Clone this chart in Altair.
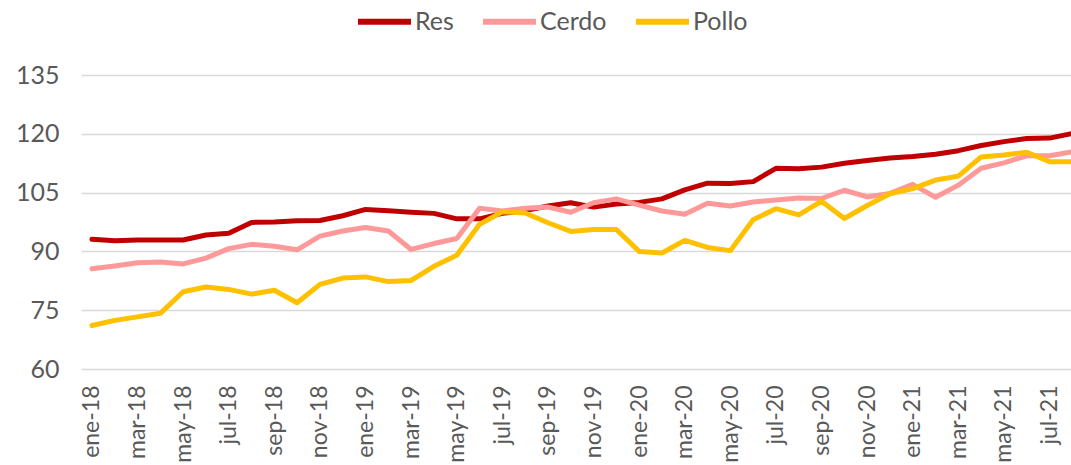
import altair as alt
import pandas as pd

# Monthly index values, ene-18 .. ago-21
months = [
    "ene-18", "feb-18", "mar-18", "abr-18", "may-18", "jun-18", "jul-18", "ago-18",
    "sep-18", "oct-18", "nov-18", "dic-18",
    "ene-19", "feb-19", "mar-19", "abr-19", "may-19", "jun-19", "jul-19", "ago-19",
    "sep-19", "oct-19", "nov-19", "dic-19",
    "ene-20", "feb-20", "mar-20", "abr-20", "may-20", "jun-20", "jul-20", "ago-20",
    "sep-20", "oct-20", "nov-20", "dic-20",
    "ene-21", "feb-21", "mar-21", "abr-21", "may-21", "jun-21", "jul-21", "ago-21",
]

res = [
    93.1, 92.7, 92.9, 92.9, 92.9, 94.2, 94.6, 97.4, 97.5, 97.8, 97.9,
    99.1, 100.7, 100.4, 100.0, 99.7, 98.3, 98.3, 99.7, 100.4, 101.6, 102.4,
    101.3, 102.1, 102.5, 103.4, 105.7, 107.4, 107.3, 107.8, 111.2, 111.1, 111.5,
    112.5, 113.2, 113.8, 114.2, 114.8, 115.7, 117.0, 118.0, 118.8, 118.9, 120.1,
]

cerdo = [
    85.6, 86.3, 87.1, 87.3, 86.8, 88.3, 90.7, 91.8, 91.3, 90.4, 93.9,
    95.2, 96.1, 95.2, 90.5, 92.0, 93.3, 101.0, 100.3, 101.0, 101.3, 100.0,
    102.4, 103.4, 101.8, 100.3, 99.5, 102.3, 101.6, 102.6, 103.1, 103.6, 103.5,
    105.6, 103.9, 104.8, 107.1, 103.8, 106.9, 111.2, 112.6, 114.4, 114.4, 115.4,
]

pollo = [
    71.1, 72.4, 73.3, 74.2, 79.7, 80.9, 80.3, 79.1, 80.1, 76.9, 81.6,
    83.2, 83.5, 82.3, 82.6, 86.2, 89.0, 96.9, 100.1, 99.8, 97.3, 95.1,
    95.6, 95.6, 90.0, 89.6, 92.8, 91.0, 90.2, 98.1, 100.9, 99.3, 102.8,
    98.4, 101.7, 104.7, 106.0, 108.2, 109.2, 114.1, 114.6, 115.3, 112.9, 112.9,
]

series = ["Res", "Cerdo", "Pollo"]
colors = ["#C00000", "#FF9999", "#FFC000"]
y_ticks = [60, 75, 90, 105, 120, 135]

rows = []
for name, values in zip(series, [res, cerdo, pollo]):
    for i, v in enumerate(values):
        rows.append({"idx": i, "mes": months[i], "serie": name, "valor": v})
df = pd.DataFrame(rows)

label_expr = "[" + ",".join(f"'{m}'" for m in months) + "][datum.value]"
font = "Lato"
text_color = "#595959"

chart = (
    alt.Chart(df)
    .mark_line(strokeWidth=5, strokeJoin="round", strokeCap="round", clip=True)
    .encode(
        x=alt.X(
            "idx:Q",
            scale=alt.Scale(domain=[-0.48, 42.94], nice=False, zero=False),
            axis=alt.Axis(
                values=list(range(0, 43, 2)),
                labelExpr=label_expr,
                labelAngle=-90,
                labelPadding=16,
                labelFontSize=23,
                labelColor=text_color,
                labelFont=font,
                ticks=False,
                domain=False,
                grid=False,
                title=None,
                labelOverlap=False,
                labelBound=False,
                labelFlush=False,
            ),
        ),
        y=alt.Y(
            "valor:Q",
            scale=alt.Scale(domain=[60, 135], nice=False, zero=False),
            axis=alt.Axis(
                values=y_ticks,
                labelFontSize=25,
                labelColor=text_color,
                labelFont=font,
                labelPadding=22,
                ticks=False,
                domain=False,
                gridColor="#D9D9D9",
                gridWidth=1.5,
                title=None,
            ),
        ),
        color=alt.Color(
            "serie:N",
            scale=alt.Scale(domain=series, range=colors),
            sort=series,
            legend=alt.Legend(
                title=None,
                orient="none",
                direction="horizontal",
                legendX=274,
                legendY=-83,
                symbolType="stroke",
                symbolSize=2809,
                symbolStrokeWidth=6,
                labelFontSize=25,
                labelFont=font,
                labelColor=text_color,
                labelOffset=1,
                columnPadding=17,
                padding=0,
            ),
        ),
        order=alt.Order("idx:Q"),
    )
    .properties(
        width=990,
        height=294,
        background="white",
        autosize=alt.AutoSizeParams(type="none"),
        padding={"left": 81, "top": 75, "right": 0, "bottom": 96},
    )
    .configure_view(strokeWidth=0, stroke="transparent")
)

chart.save("out.html", embed_options={"renderer": "svg", "actions": False})
